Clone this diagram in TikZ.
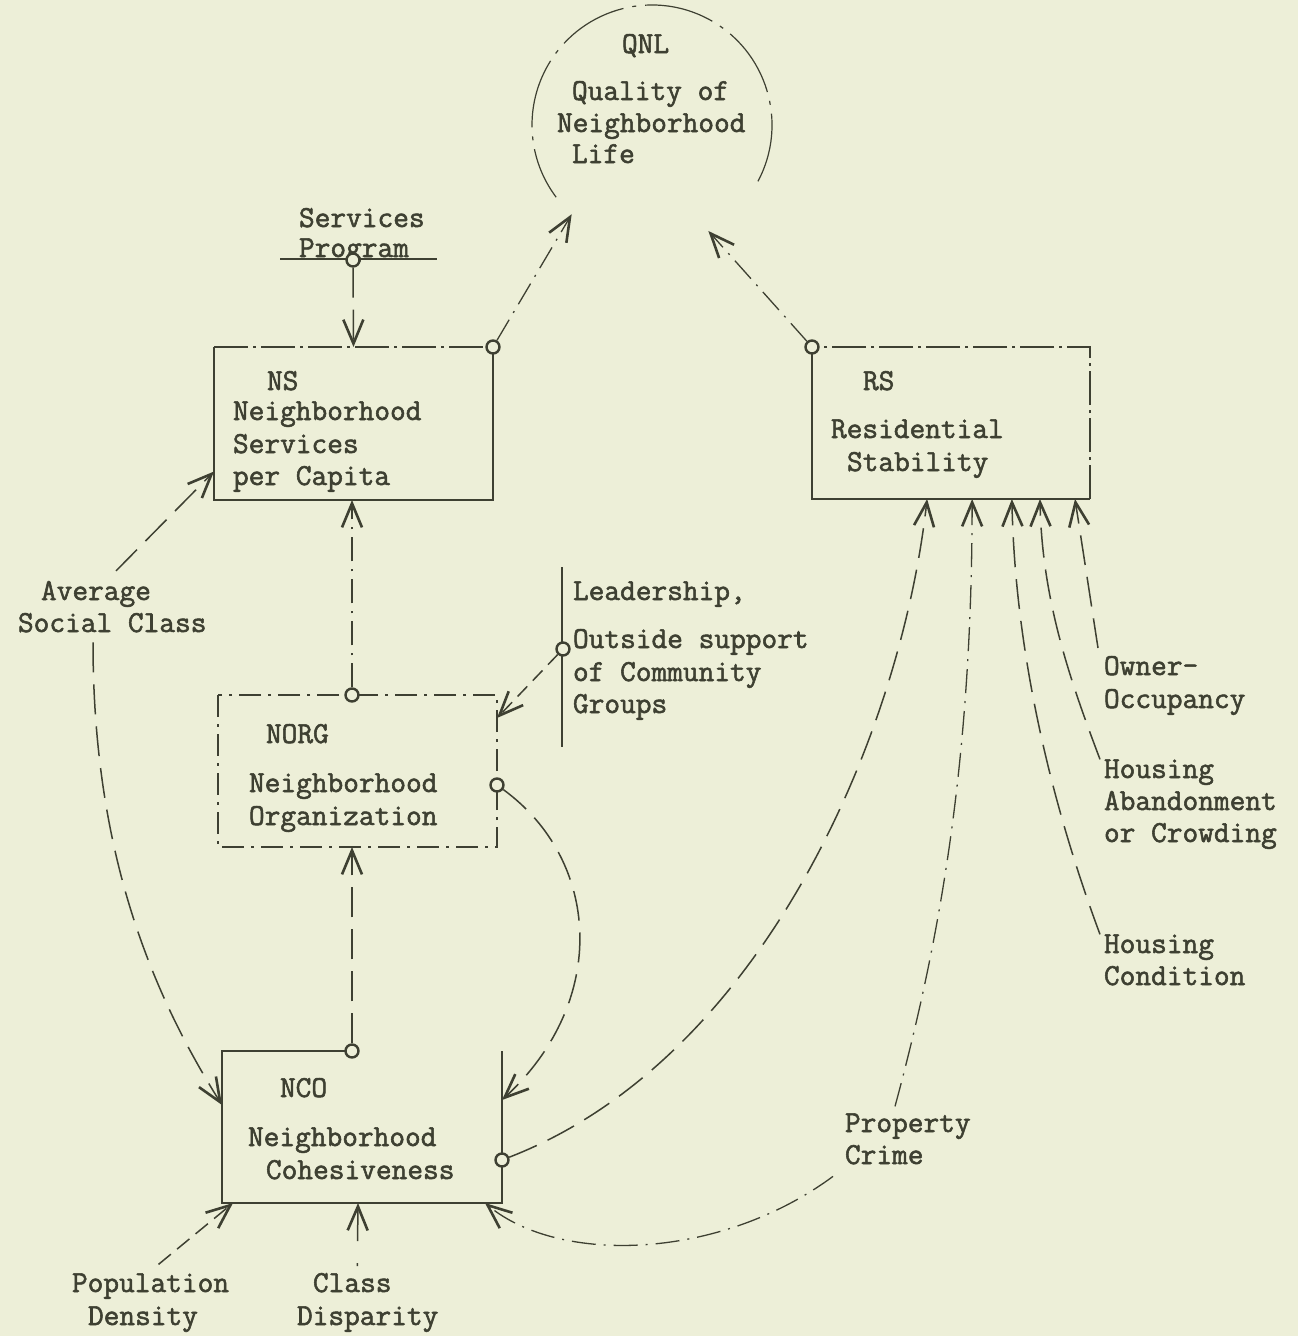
\documentclass[tikz,border=0pt]{standalone}
\usepackage{fontspec}
\newfontfamily\tw{Latin Modern Mono}[FakeBold=1.8]
\usetikzlibrary{arrows.meta,calc}
\definecolor{paper}{RGB}{237,239,216}
\definecolor{ink}{RGB}{62,64,50}
\tikzset{
  lbl/.style={anchor=base west, inner sep=0pt, outer sep=0pt, text=ink,
              font=\tw\fontsize{30.5}{33}\selectfont},
  box/.style={rectangle, inner sep=0pt, outer sep=0pt},
  edge/.style={draw=ink, line width=1.6pt},
  topedge/.style={dash pattern=on 34pt off 5pt on 3pt off 5pt},
  lightedge/.style={line width=1.2pt, dash pattern=on 22pt off 7pt on 3pt off 7pt},
  conn/.style={draw=ink, line width=1.5pt, dash pattern=on 30pt off 12pt},
  connb/.style={draw=ink, line width=1.3pt, dash pattern=on 24pt off 8pt on 2pt off 8pt},
  tip/.style={-{Straight Barb[length=24pt,width=20pt,line width=2.6pt]}},
  dot/.style={circle, draw=ink, fill=paper, line width=2.4pt, minimum size=13pt, inner sep=0pt},
  ring/.style={draw=ink, line width=1.2pt, dash pattern=on 70pt off 9pt on 4pt off 9pt},
}
\begin{document}
\begin{tikzpicture}[x=1pt,y=-1pt]
\fill[paper] (0,0) rectangle (1298,1336);
\useasboundingbox (0,0) rectangle (1298,1336);

% ---------- boxes ----------
\node[box, minimum width=279pt, minimum height=153pt] (ns)   at (353.5,423.5) {};
\node[box, minimum width=278pt, minimum height=152pt] (rs)   at (951,423) {};
\node[box, minimum width=279pt, minimum height=152pt] (norg) at (357.5,771) {};
\node[box, minimum width=280pt, minimum height=152pt] (nco)  at (362,1127) {};
\node[circle, inner sep=0pt, outer sep=0pt, minimum size=240pt] (qnl) at (652,125) {};

\draw[edge] (ns.north west) |- (ns.south east) -- (ns.north east);
\draw[edge, topedge] (ns.north west) -- (ns.north east);
\draw[edge] (rs.north west) |- (rs.south east);
\draw[edge, topedge] (rs.south east) -- (rs.north east) -- (rs.north west);
\draw[edge, lightedge] (norg.north west) rectangle (norg.south east);

% Quality of Neighborhood Life ring
\draw[ring] (qnl.-28) arc[start angle=-28, end angle=217, radius=120pt];

% Services Program underline and the Leadership bar
\coordinate (ulL) at (280,259);
\coordinate (ulR) at (437,259);
\draw[edge] (ulL) -- (ulR);
\coordinate (barT) at (562,567);
\coordinate (barB) at (562,747);
\draw[draw=ink, line width=2pt] (barT) -- (barB);

% ---------- labels ----------
\node[lbl] (qnlA) at (622,53)  {QNL};
\node[lbl] (qnlB) at (572,100) {Quality of};
\node[lbl] (qnlC) at (557,132) {Neighborhood};
\node[lbl] (qnlD) at (572,163) {Life};

\node[lbl] (svA) at (299,227) {Services};
\node[lbl] (svB) at (299,257) {Program};

\node[lbl] (nsA) at (267,390) {NS};
\node[lbl] (nsB) at (233,420) {Neighborhood};
\node[lbl] (nsC) at (233,453) {Services};
\node[lbl] (nsD) at (233,485) {per Capita};

\node[lbl] (rsA) at (863,390) {RS};
\node[lbl] (rsB) at (831,438) {Residential};
\node[lbl] (rsC) at (847,471) {Stability};

\node[lbl] (ldA) at (573,600) {Leadership,};
\node[lbl] (ldB) at (573,648) {Outside support};
\node[lbl] (ldC) at (573,681) {of Community};
\node[lbl] (ldD) at (573,713) {Groups};

\node[lbl] (ngA) at (266,743) {NORG};
\node[lbl] (ngB) at (249,792) {Neighborhood};
\node[lbl] (ngC) at (249,825) {Organization};

\node[lbl] (ncA) at (280,1097) {NCO};
\node[lbl] (ncB) at (248,1146) {Neighborhood};
\node[lbl] (ncC) at (266,1179) {Cohesiveness};

\node[lbl] (avA) at (41,600) {Average};
\node[lbl] (avB) at (18,632) {Social Class};

\node[lbl] (ooA) at (1104,675) {Owner-};
\node[lbl] (ooB) at (1104,708) {Occupancy};

\node[lbl] (haA) at (1104,778) {Housing};
\node[lbl] (haB) at (1104,810) {Abandonment};
\node[lbl] (haC) at (1104,842) {or Crowding};

\node[lbl] (hcA) at (1104,953) {Housing};
\node[lbl] (hcB) at (1104,985) {Condition};

\node[lbl] (pcA) at (845,1132) {Property};
\node[lbl] (pcB) at (845,1164) {Crime};

\node[lbl] (pdA) at (72,1292) {Population};
\node[lbl] (pdB) at (88,1325) {Density};

\node[lbl] (cdA) at (313,1292) {Class};
\node[lbl] (cdB) at (297,1325) {Disparity};

% Cohesiveness box, open at the top right
\draw[edge] (nco.north east) |- (nco.south west) |- ([xshift=-10pt]nco.north);

% ---------- small rings where links start ----------
\node[dot] (dSvc)   at (353,260) {};
\node[dot] (dNs)    at (ns.north east) {};
\node[dot] (dRs)    at (rs.north west) {};
\node[dot] (dNorgT) at ([xshift=-5.5pt]norg.north) {};
\node[dot] (dNorgR) at ([yshift=-14pt]norg.east) {};
\node[dot] (dLead)  at (563,649) {};
\node[dot] (dNcoT)  at ([xshift=-10pt]nco.north) {};
\node[dot] (dNcoR)  at ([yshift=-33pt]nco.east) {};

% ---------- links ----------
\draw[conn, tip] (dSvc) -- (ns.north);
\draw[connb, tip] (dNs) -- (qnl.228);
\draw[connb, tip] (dRs) -- (qnl.-62);
\draw[connb, tip] (dNorgT) -- (dNorgT |- ns.south);
\draw[conn, dash pattern=on 14pt off 8pt, tip] (dLead) -- ([yshift=-23pt]norg.north east);
\draw[conn, tip] (dNorgR) .. controls (600,860) and (610,1000) .. ([yshift=-49pt]nco.north east);
\draw[conn, tip] (dNcoT) -- (dNcoT |- norg.south);
\draw[conn, tip] (dNcoR) .. controls (760,1060) and (900,740) .. ($(rs.south west)!0.414!(rs.south east)$);

% Property Crime
\draw[connb, tip] ([xshift=50pt,yshift=7pt]pcA.north west) .. controls (940,940) and (972,760) .. ($(rs.south west)!0.576!(rs.south east)$);
\draw[connb, tip] ([xshift=-12pt,yshift=-12pt]pcB.south west) .. controls (720,1260) and (560,1265) .. ([xshift=-17pt]nco.south east);

% housing and ownership
\draw[conn, tip] ([xshift=-4pt]hcA.north west) .. controls (1050,800) and (1015,650) .. ($(rs.south west)!0.719!(rs.south east)$);
\draw[conn, tip] ([xshift=-4pt]haA.north west) .. controls (1070,680) and (1042,600) .. ($(rs.south west)!0.82!(rs.south east)$);
\draw[conn, tip] ([xshift=-6pt,yshift=8pt]ooA.north west) -- ($(rs.south west)!0.946!(rs.south east)$);

% Average Social Class
\draw[conn, tip] ([xshift=20pt,yshift=10pt]avA.north) -- ([yshift=-48pt]ns.west);
\draw[conn, tip] ([xshift=75pt,yshift=-10pt]avB.south west) .. controls (93,850) and (150,990) .. ([yshift=22pt]nco.west);

% Population Density and Class Disparity
\draw[conn, dash pattern=on 16pt off 8pt, tip] ([xshift=8pt,yshift=9pt]pdA.north) -- ([xshift=11pt]nco.south west);
\draw[conn, dash pattern=on 3pt off 22pt on 40pt off 0pt, tip] ([xshift=5pt,yshift=7pt]cdA.north) -- ([xshift=-4pt]nco.south);
\end{tikzpicture}
\end{document}
